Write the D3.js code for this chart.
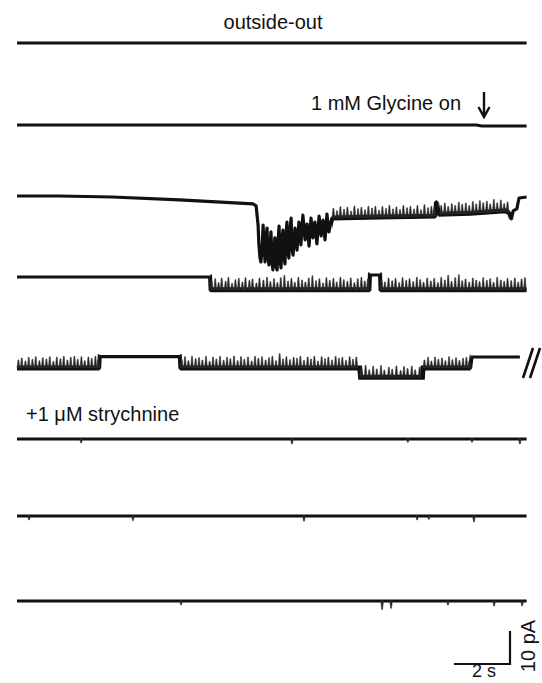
<!DOCTYPE html>
<html>
<head>
<meta charset="utf-8">
<script src="https://cdnjs.cloudflare.com/ajax/libs/d3/7.8.5/d3.min.js"></script>
<style>
  body { margin: 0; background: #fff; }
  text { font-family: "Liberation Sans", Arial, sans-serif; fill: #111; }
</style>
</head>
<body>
<div id="chart"></div>
<script>
// ---- data: time (s), current (pA) relative to each sweep's start level ----
var trace1Level = [[0, 0], [18.2, 0]];
var trace2Level = [[0, 0], [16.4, 0], [16.6, -0.3], [18.2, -0.3]];

var trace3Level = [
  [0, 0], [1.5, 0], [3.4, -0.3], [5.8, -1.2], [8.43, -2.4], [8.54, -3.0],
  [8.61, -8.8], [8.64, -14.8], [8.68, -18.8], [8.71, -20.0], [8.75, -16.4], [8.79, -8.8],
  [8.82, -14.8], [8.86, -20.0], [8.89, -13.3], [8.93, -9.7], [8.96, -17.9], [9.0, -20.9],
  [9.04, -14.8], [9.07, -10.9], [9.11, -20.0], [9.14, -22.4], [9.18, -16.4], [9.21, -12.7],
  [9.25, -21.2], [9.29, -22.4], [9.32, -13.9], [9.36, -9.1], [9.39, -19.4], [9.43, -21.8],
  [9.46, -13.3], [9.5, -10.3], [9.54, -18.8], [9.57, -20.6], [9.61, -12.1], [9.64, -7.9],
  [9.68, -16.4], [9.71, -18.8], [9.75, -10.3], [9.79, -6.7], [9.82, -15.8], [9.86, -17.9],
  [9.93, -9.7], [10.0, -16.4], [10.07, -7.9], [10.14, -14.8], [10.21, -5.8], [10.29, -13.3],
  [10.36, -8.5], [10.43, -15.2], [10.5, -6.7], [10.57, -12.7], [10.64, -7.9], [10.71, -14.5],
  [10.79, -6.1], [10.86, -12.1], [10.93, -7.3], [11.0, -13.3], [11.07, -5.5], [11.14, -10.9],
  [11.21, -7.9], [11.25, -6.7], [13.0, -6.4], [14.95, -6.1], [14.98, -1.8], [15.05, -5.5],
  [16.2, -5.2], [17.45, -4.5], [17.6, -5.2], [17.66, -6.9], [17.72, -4.5], [17.85, -3.9],
  [17.93, -0.6], [18.2, -0.3]
];
var trace3Flicker = [[11.25, 14.95], [15.05, 17.6]];
var trace3Spikes = [
  [11.3, 3.0], [11.43, 2.2], [11.55, 3.4], [11.68, 2.6], [11.8, 3.2], [11.93, 2.0], [12.05, 3.5],
  [12.18, 2.7], [12.3, 3.1], [12.43, 2.3], [12.55, 3.4], [12.68, 2.8], [12.8, 3.3], [12.93, 2.1],
  [13.05, 3.2], [13.18, 2.6], [13.3, 3.5], [13.43, 2.4], [13.55, 3.0], [13.68, 2.2], [13.8, 3.4],
  [13.93, 2.7], [14.05, 3.1], [14.18, 2.3], [14.3, 3.3], [14.43, 2.0], [14.55, 3.5], [14.68, 2.6],
  [14.8, 3.0], [14.9, 2.4],
  [15.15, 2.6], [15.28, 3.3], [15.4, 2.2], [15.53, 3.0], [15.65, 2.5], [15.78, 3.4], [15.9, 2.8],
  [16.03, 3.1], [16.15, 2.3], [16.28, 3.5], [16.4, 2.7], [16.53, 3.6], [16.65, 2.9], [16.78, 3.3],
  [16.9, 2.4], [17.03, 3.7], [17.15, 2.6], [17.28, 3.4], [17.4, 2.2], [17.52, 3.0]
];

var trace4Level = [[0, 0], [6.88, 0], [6.9, -3.9], [12.6, -3.9], [12.62, 0.6], [12.95, 0.6], [12.97, -3.9], [18.2, -3.9]];
var trace4Flicker = [[6.9, 12.6], [12.97, 18.2]];
var trace4Spikes = [
  [6.95, 2.8], [7.08, 3.4], [7.2, 2.2], [7.31, 3.6], [7.45, 2.6], [7.55, 3.8], [7.68, 2.0], [7.8, 3.1],
  [7.92, 3.5], [8.05, 2.4], [8.16, 3.7], [8.3, 2.9], [8.41, 3.3], [8.55, 2.1], [8.66, 3.6], [8.8, 3.0],
  [8.93, 3.8], [9.05, 2.5], [9.18, 3.4], [9.3, 2.2], [9.42, 3.7], [9.55, 4.4], [9.68, 2.7], [9.8, 3.5],
  [9.92, 2.3], [10.05, 3.8], [10.18, 3.0], [10.3, 2.4], [10.42, 3.6], [10.55, 4.3], [10.68, 2.8],
  [10.8, 3.4], [10.93, 2.1], [11.05, 3.7], [11.17, 2.9], [11.3, 3.5], [11.42, 2.4], [11.55, 3.8],
  [11.67, 3.1], [11.8, 2.6], [11.92, 3.6], [12.05, 2.2], [12.17, 3.4], [12.3, 3.8], [12.42, 2.7], [12.53, 3.3],
  [13.02, 3.0], [13.14, 2.4], [13.27, 3.6], [13.4, 2.8], [13.52, 3.5], [13.65, 2.2], [13.77, 3.7],
  [13.9, 2.9], [14.02, 3.4], [14.15, 2.5], [14.28, 3.8], [14.4, 3.1], [14.52, 2.3], [14.65, 3.6],
  [14.78, 2.7], [14.9, 3.5], [15.03, 2.2], [15.15, 3.8], [15.28, 3.0], [15.4, 4.4], [15.52, 2.6],
  [15.65, 3.7], [15.78, 4.6], [15.9, 2.8], [16.02, 3.3], [16.15, 2.4], [16.28, 3.6], [16.4, 3.0],
  [16.52, 2.5], [16.65, 3.7], [16.78, 2.9], [16.9, 3.4], [17.02, 2.3], [17.15, 3.8], [17.28, 3.0],
  [17.4, 2.6], [17.52, 3.5], [17.65, 2.8], [17.78, 3.6], [17.9, 2.4], [18.02, 3.3], [18.14, 3.7]
];

var trace5Level = [
  [0, -3.3], [2.95, -3.3], [2.97, 0.1], [5.8, 0.1], [5.82, -3.3], [12.24, -3.3], [12.27, -6.1],
  [14.48, -6.1], [14.5, -3.3], [16.2, -3.3], [16.25, 0], [17.96, 0]
];
var trace5Flicker = [[0, 2.95], [5.82, 16.2]];
var trace5Spikes = [
  [0.05, 2.4], [0.17, 3.0], [0.3, 2.1], [0.42, 3.2], [0.55, 2.6], [0.67, 3.4], [0.8, 2.2], [0.92, 3.1],
  [1.05, 2.7], [1.17, 3.4], [1.3, 2.0], [1.42, 3.3], [1.55, 2.8], [1.67, 3.5], [1.8, 2.4], [1.92, 3.2],
  [2.05, 3.5], [2.17, 2.6], [2.3, 3.4], [2.42, 2.2], [2.55, 3.3], [2.67, 2.9], [2.8, 3.5], [2.9, 2.5],
  [5.88, 2.6], [6.0, 3.4], [6.12, 2.2], [6.25, 3.5], [6.38, 2.8], [6.5, 3.1], [6.62, 2.4], [6.75, 3.5],
  [6.88, 2.0], [7.0, 3.3], [7.12, 2.7], [7.25, 3.5], [7.38, 2.3], [7.5, 3.2], [7.62, 2.8], [7.75, 3.6],
  [7.88, 2.2], [8.0, 3.4], [8.12, 2.6], [8.25, 3.3], [8.38, 2.1], [8.5, 3.5], [8.62, 2.9], [8.75, 3.4],
  [8.88, 2.4], [9.0, 3.1], [9.12, 3.5], [9.25, 2.2], [9.38, 4.3], [9.5, 2.7], [9.62, 3.4], [9.75, 2.5],
  [9.88, 3.2], [10.0, 2.9], [10.12, 3.5], [10.25, 2.3], [10.38, 3.3], [10.5, 2.7], [10.62, 3.5],
  [10.75, 2.1], [10.88, 3.4], [11.0, 2.8], [11.12, 3.3], [11.25, 2.4], [11.38, 3.5], [11.5, 2.9],
  [11.62, 3.2], [11.75, 2.3], [11.88, 3.4], [12.0, 2.6], [12.12, 3.3],
  [12.3, 2.8], [12.45, 3.6], [12.58, 2.2], [12.72, 3.3], [12.85, 2.5], [13.0, 3.5], [13.12, 2.1],
  [13.28, 3.0], [13.4, 2.4], [13.55, 3.4], [13.7, 2.0], [13.82, 3.2], [13.95, 2.6], [14.1, 3.3],
  [14.22, 2.2], [14.38, 3.0],
  [14.55, 2.4], [14.68, 3.2], [14.8, 2.1], [14.93, 3.3], [15.05, 2.6], [15.18, 3.0], [15.3, 2.2],
  [15.43, 3.4], [15.55, 2.5], [15.68, 3.1], [15.8, 2.3], [15.93, 2.9], [16.05, 3.2], [16.15, 2.0]
];

var trace6Level = [[0, 0], [18.2, 0]];
var trace6Blips = [[2.29, -1.2], [9.82, -1.5], [13.96, -1.0], [16.25, -1.0], [17.96, -1.5]];
var trace7Level = [[0, 0], [18.2, 0]];
var trace7Blips = [[0.43, -1.2], [4.14, -1.4], [10.25, -1.6], [14.29, -1.2], [14.71, -1.0], [16.32, -1.8]];
var trace8Level = [[0, 0], [18.2, 0]];
var trace8Blips = [[5.86, -1.2], [13.04, -2.6], [13.36, -2.2], [15.39, -1.2], [17.04, -1.5], [18.04, -1.5]];

var scaleBarTime = 2;      // s
var scaleBarCurrent = 10;  // pA

// ---- layout ----
var width = 542, height = 683;
var traceBase = [43, 125, 196, 277, 357, 439, 516, 601];

var traces = [
  { level: trace1Level },
  { level: trace2Level },
  { level: trace3Level, flicker: trace3Flicker, spikes: trace3Spikes },
  { level: trace4Level, flicker: trace4Flicker, spikes: trace4Spikes },
  { level: trace5Level, flicker: trace5Flicker, spikes: trace5Spikes },
  { level: trace6Level, spikes: trace6Blips },
  { level: trace7Level, spikes: trace7Blips },
  { level: trace8Level, spikes: trace8Blips }
];

var x = d3.scaleLinear().domain([0, 18.2]).range([17, 17 + 18.2 * 28]);
var y = d3.scaleLinear().domain([0, 10]).range([0, -33]);

var line = d3.line().x(d => x(d[0])).y(d => y(d[1]));
var bis = d3.bisector(d => d[0]).right;

function levelAt(pts, t) {
  var i = bis(pts, t);
  if (i <= 0) return pts[0][1];
  if (i >= pts.length) return pts[pts.length - 1][1];
  var a = pts[i - 1], b = pts[i];
  return a[1] + (b[1] - a[1]) * (t - a[0]) / (b[0] - a[0]);
}

var svg = d3.select('#chart').append('svg')
  .attr('width', width)
  .attr('height', height);

var defs = svg.append('defs');

traces.forEach(function (tr, k) {
  var g = svg.append('g').attr('transform', 'translate(0,' + traceBase[k] + ')');

  g.append('path')
    .attr('d', line(tr.level))
    .attr('fill', 'none')
    .attr('stroke', '#111')
    .attr('stroke-width', 3.2)
    .attr('stroke-linejoin', 'round');

  // thicker band where the channel flickers
  (tr.flicker || []).forEach(function (iv, j) {
    var id = 'clip' + k + '_' + j;
    defs.append('clipPath').attr('id', id)
      .append('rect')
        .attr('x', x(iv[0])).attr('y', -40)
        .attr('width', x(iv[1]) - x(iv[0])).attr('height', 80);
    g.append('path')
      .attr('d', line(tr.level))
      .attr('clip-path', 'url(#' + id + ')')
      .attr('fill', 'none')
      .attr('stroke', '#111')
      .attr('stroke-width', 5);
  });

  // brief transitions, drawn as narrow filtered peaks
  g.selectAll('path.spike')
    .data(tr.spikes || [])
    .enter()
    .append('path')
      .attr('class', 'spike')
      .attr('d', function (d) {
        var b = y(levelAt(tr.level, d[0])), xc = x(d[0]);
        return 'M' + (xc - 1.3) + ',' + b + 'L' + (xc - 0.4) + ',' + y(levelAt(tr.level, d[0]) + d[1]) +
               'L' + (xc + 0.4) + ',' + y(levelAt(tr.level, d[0]) + d[1]) + 'L' + (xc + 1.3) + ',' + b + 'Z';
      })
      .attr('fill', '#222')
      .attr('stroke', '#333')
      .attr('stroke-width', 0.6);
});

// break mark after sweep 5
svg.append('path')
  .attr('d', 'M523,378 L533,348 M530,378 L540,348')
  .attr('stroke', '#111')
  .attr('stroke-width', 2.6)
  .attr('fill', 'none');

// labels
svg.append('text').attr('x', 273).attr('y', 29).attr('text-anchor', 'middle')
  .style('font-size', '20px').text('outside-out');
svg.append('text').attr('x', 311).attr('y', 110)
  .style('font-size', '20px').text('1 mM Glycine on');
svg.append('path')
  .attr('d', 'M484,92 L484,117 M478.5,107 L484,117 L489.5,107')
  .attr('stroke', '#111').attr('stroke-width', 2.4).attr('fill', 'none');
svg.append('text').attr('x', 26).attr('y', 421)
  .style('font-size', '20px').text('+1 \u03BCM strychnine');

// scale bar
var sbX = 510, sbY = 664;
var sbW = x(scaleBarTime) - x(0);
var sbH = y(0) - y(scaleBarCurrent);
svg.append('path')
  .attr('d', 'M' + (sbX - sbW) + ',' + sbY + ' L' + sbX + ',' + sbY + ' L' + sbX + ',' + (sbY - sbH))
  .attr('stroke', '#111').attr('stroke-width', 2.2).attr('fill', 'none');
svg.append('text').attr('x', sbX - sbW / 2 + 2).attr('y', 677).attr('text-anchor', 'middle')
  .style('font-size', '18px').text(scaleBarTime + ' s');
svg.append('text')
  .attr('transform', 'translate(535,646) rotate(-90)')
  .attr('text-anchor', 'middle')
  .style('font-size', '20px').text(scaleBarCurrent + ' pA');
</script>
</body>
</html>
